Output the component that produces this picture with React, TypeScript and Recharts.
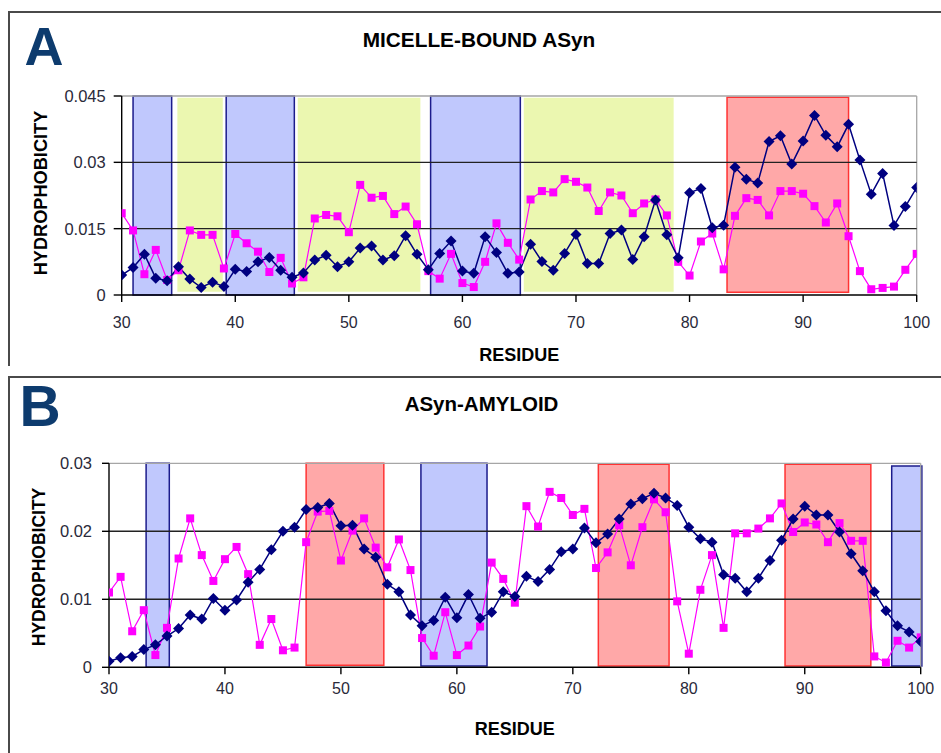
import React from 'react';
import { ComposedChart, Line, XAxis, YAxis, ReferenceArea, ReferenceLine } from 'recharts';

const residues = [30, 31, 32, 33, 34, 35, 36, 37, 38, 39, 40, 41, 42, 43, 44, 45, 46, 47, 48, 49, 50, 51, 52, 53, 54, 55, 56, 57, 58, 59, 60, 61, 62, 63, 64, 65, 66, 67, 68, 69, 70, 71, 72, 73, 74, 75, 76, 77, 78, 79, 80, 81, 82, 83, 84, 85, 86, 87, 88, 89, 90, 91, 92, 93, 94, 95, 96, 97, 98, 99, 100];

const micelleNavy = [0.0045, 0.0062, 0.0092, 0.0038, 0.0032, 0.0064, 0.0036, 0.0017, 0.0029, 0.0019, 0.0058, 0.0053, 0.0075, 0.0085, 0.0056, 0.0040, 0.0050, 0.0079, 0.0090, 0.0064, 0.0075, 0.0106, 0.0111, 0.0079, 0.0089, 0.0134, 0.0092, 0.0057, 0.0094, 0.0122, 0.0054, 0.0049, 0.0132, 0.0096, 0.0049, 0.0052, 0.0115, 0.0076, 0.0056, 0.0094, 0.0137, 0.0071, 0.0071, 0.0139, 0.0147, 0.0080, 0.0132, 0.0215, 0.0136, 0.0084, 0.0231, 0.0241, 0.0152, 0.0158, 0.0289, 0.0262, 0.0253, 0.0347, 0.0360, 0.0296, 0.0348, 0.0406, 0.0361, 0.0335, 0.0386, 0.0305, 0.0228, 0.0275, 0.0157, 0.0200, 0.0243];

const micellePink = [0.0185, 0.0146, 0.0047, 0.0102, 0.0034, 0.0056, 0.0146, 0.0136, 0.0136, 0.0060, 0.0138, 0.0117, 0.0098, 0.0052, 0.0084, 0.0026, 0.0040, 0.0173, 0.0181, 0.0178, 0.0142, 0.0249, 0.0220, 0.0224, 0.0183, 0.0200, 0.0160, 0.0054, 0.0037, 0.0093, 0.0027, 0.0018, 0.0075, 0.0162, 0.0118, 0.0080, 0.0216, 0.0235, 0.0232, 0.0262, 0.0256, 0.0243, 0.0190, 0.0232, 0.0225, 0.0185, 0.0207, 0.0216, 0.0180, 0.0075, 0.0044, 0.0121, 0.0139, 0.0058, 0.0179, 0.0219, 0.0215, 0.0180, 0.0235, 0.0235, 0.0229, 0.0201, 0.0164, 0.0207, 0.0133, 0.0054, 0.0013, 0.0016, 0.0019, 0.0057, 0.0093];

const amyloidNavy = [0.0009, 0.0014, 0.0016, 0.0026, 0.0033, 0.0046, 0.0057, 0.0077, 0.0071, 0.0101, 0.0084, 0.0099, 0.0125, 0.0144, 0.0173, 0.0200, 0.0206, 0.0232, 0.0235, 0.0241, 0.0208, 0.0209, 0.0174, 0.0162, 0.0122, 0.0111, 0.0077, 0.0061, 0.0069, 0.0103, 0.0073, 0.0107, 0.0072, 0.0081, 0.0111, 0.0104, 0.0134, 0.0126, 0.0144, 0.0170, 0.0174, 0.0205, 0.0183, 0.0196, 0.0218, 0.0240, 0.0248, 0.0256, 0.0249, 0.0238, 0.0206, 0.0189, 0.0184, 0.0136, 0.0131, 0.0111, 0.0131, 0.0157, 0.0187, 0.0218, 0.0237, 0.0224, 0.0224, 0.0199, 0.0167, 0.0142, 0.0111, 0.0083, 0.0061, 0.0052, 0.0038];

const amyloidPink = [0.0110, 0.0133, 0.0053, 0.0084, 0.0018, 0.0058, 0.0160, 0.0219, 0.0165, 0.0127, 0.0159, 0.0177, 0.0137, 0.0033, 0.0071, 0.0025, 0.0029, 0.0184, 0.0229, 0.0230, 0.0157, 0.0201, 0.0219, 0.0176, 0.0147, 0.0188, 0.0143, 0.0043, 0.0017, 0.0081, 0.0018, 0.0032, 0.0060, 0.0154, 0.0130, 0.0095, 0.0237, 0.0207, 0.0258, 0.0249, 0.0224, 0.0233, 0.0146, 0.0169, 0.0209, 0.0150, 0.0206, 0.0247, 0.0228, 0.0097, 0.0020, 0.0114, 0.0165, 0.0058, 0.0197, 0.0197, 0.0204, 0.0219, 0.0241, 0.0199, 0.0213, 0.0210, 0.0184, 0.0212, 0.0186, 0.0186, 0.0016, 0.0007, 0.0039, 0.0029, 0.0044];

const xTicks = [30, 40, 50, 60, 70, 80, 90, 100];
const yTicksA = [0, 0.015, 0.03, 0.045];
const yTicksB = [0, 0.01, 0.02, 0.03];
const gridA = [0.015, 0.03];
const gridB = [0.01, 0.02];

// highlighted residue ranges: [start, end, bottom, top, kind]
const regionsA: [number, number, number, number, string][] = [
  [31.0, 34.4, 0, 0.045, 'helix'],
  [34.9, 38.9, 0.00075, 0.0446, 'loop'],
  [39.2, 45.2, 0, 0.045, 'helix'],
  [45.5, 56.3, 0.00075, 0.0446, 'loop'],
  [57.2, 65.1, 0, 0.045, 'helix'],
  [65.4, 78.6, 0.00075, 0.0446, 'loop'],
  [83.3, 94.0, 0.0006, 0.0447, 'strand'],
];
const regionsB: [number, number, number, number, string][] = [
  [33.2, 35.2, 0, 0.03, 'helix'],
  [47.0, 53.7, 0.0003, 0.03, 'strand'],
  [56.9, 62.6, 0.0002, 0.03, 'helix'],
  [72.2, 78.3, 0.0002, 0.02985, 'strand'],
  [88.3, 95.7, 0.0002, 0.02985, 'strand'],
  [97.5, 100.1, 0.0002, 0.0296, 'helix'],
];

const kindStyle: Record<string, { fill: string; stroke: string; strokeWidth: number }> = {
  helix: { fill: '#c0c8fd', stroke: '#1c1c8c', strokeWidth: 1.5 },
  loop: { fill: '#ebf7b0', stroke: 'none', strokeWidth: 0 },
  strand: { fill: '#ffa8a8', stroke: '#ff3333', strokeWidth: 1.5 },
};

const FONT = '"Liberation Sans", Arial, sans-serif';
const NAVY = '#000080';
const PINK = '#ff00ff';

const Diamond = (props: any) => {
  const { cx, cy, index } = props;
  if (cx == null || cy == null) return <g key={`d${index}`} />;
  const s = 5.5;
  return <polygon key={`d${index}`} points={`${cx},${cy - s} ${cx + s},${cy} ${cx},${cy + s} ${cx - s},${cy}`} fill={NAVY} />;
};
const Square = (props: any) => {
  const { cx, cy, index } = props;
  if (cx == null || cy == null) return <g key={`s${index}`} />;
  const s = 4;
  return <rect key={`s${index}`} x={cx - s} y={cy - s} width={2 * s} height={2 * s} fill={PINK} />;
};

type PanelProps = {
  navy: number[];
  pink: number[];
  regions: [number, number, number, number, string][];
  yMax: number;
  yTicks: number[];
  grid: number[];
  width: number;
  height: number;
  margin: { top: number; right: number; bottom: number; left: number };
  yAxisWidth: number;
  yTickSize: number;
  yTickMargin: number;
  xAxisHeight: number;
  xTickMargin: number;
  labelOffset: number;
};

const Panel = (p: PanelProps) => {
  const data = residues.map((r, i) => ({ r, navy: p.navy[i], pink: p.pink[i] }));
  return (
    <ComposedChart width={p.width} height={p.height} data={data} margin={p.margin}>
      {p.regions.map((g, i) => {
        const st = kindStyle[g[4]];
        return (
          <ReferenceArea
            key={`reg${i}`}
            x1={g[0]}
            x2={g[1]}
            y1={g[2]}
            y2={g[3]}
            fill={st.fill}
            fillOpacity={1}
            stroke={st.stroke}
            strokeWidth={st.strokeWidth}
            ifOverflow="visible"
          />
        );
      })}
      <ReferenceLine y={p.yMax} stroke="#a6a6a6" strokeWidth={1.3} />
      <ReferenceLine x={100} stroke="#a6a6a6" strokeWidth={1.3} />
      {p.grid.map((v) => (
        <ReferenceLine key={`g${v}`} y={v} stroke="#222" strokeWidth={1.4} />
      ))}
      <XAxis
        type="number"
        dataKey="r"
        domain={[30, 100]}
        ticks={xTicks}
        allowDataOverflow
        height={p.xAxisHeight}
        tickSize={7}
        tickMargin={p.xTickMargin}
        stroke="#000"
        axisLine={{ stroke: '#000', strokeWidth: 1.4 }}
        tickLine={{ stroke: '#000', strokeWidth: 1.4 }}
        tick={{ fill: '#2a2a3a', fontSize: 16, fontFamily: FONT }}
        label={{
          value: 'RESIDUE',
          position: 'insideBottom',
          offset: p.labelOffset,
          style: { fill: '#000', fontSize: 18, fontWeight: 'bold', fontFamily: FONT },
        }}
      />
      <YAxis
        type="number"
        domain={[0, p.yMax]}
        ticks={p.yTicks}
        allowDataOverflow
        width={p.yAxisWidth}
        tickSize={p.yTickSize}
        tickMargin={p.yTickMargin}
        stroke="#000"
        axisLine={{ stroke: '#000', strokeWidth: 1.4 }}
        tickLine={{ stroke: '#000', strokeWidth: 1.4 }}
        tick={{ fill: '#2a2a3a', fontSize: 16.5, fontFamily: FONT }}
      />
      <Line
        type="linear"
        dataKey="pink"
        stroke={PINK}
        strokeWidth={1.2}
        dot={(props: any) => <Square {...props} />}
        activeDot={false}
        isAnimationActive={false}
      />
      <Line
        type="linear"
        dataKey="navy"
        stroke={NAVY}
        strokeWidth={1.5}
        dot={(props: any) => <Diamond {...props} />}
        activeDot={false}
        isAnimationActive={false}
      />
    </ComposedChart>
  );
};

const abs = (s: React.CSSProperties): React.CSSProperties => ({ position: 'absolute', ...s });

export default function App() {
  return (
    <div style={abs({ left: 0, top: 0, width: 941, height: 753, background: '#fff', fontFamily: FONT, overflow: 'hidden' })}>
      {/* frames */}
      <div style={abs({ left: 8, top: 11, width: 933, height: 2, background: '#4a4a4a' })} />
      <div style={abs({ left: 8, top: 11, width: 2, height: 355, background: '#4a4a4a' })} />
      <div style={abs({ left: 8, top: 376, width: 933, height: 2, background: '#4a4a4a' })} />
      <div style={abs({ left: 8, top: 376, width: 2, height: 377, background: '#4a4a4a' })} />

      <div style={abs({ left: 0, top: 0 })}>
        <Panel
          navy={micelleNavy}
          pink={micellePink}
          regions={regionsA}
          yMax={0.045}
          yTicks={yTicksA}
          grid={gridA}
          width={941}
          height={370}
          margin={{ top: 96, right: 24.3, bottom: 0, left: 0 }}
          yAxisWidth={121.7}
          yTickSize={8}
          yTickMargin={8}
          xAxisHeight={75}
          xTickMargin={15}
          labelOffset={9.5}
        />
      </div>
      <div style={abs({ left: 0, top: 376 })}>
        <Panel
          navy={amyloidNavy}
          pink={amyloidPink}
          regions={regionsB}
          yMax={0.03}
          yTicks={yTicksB}
          grid={gridB}
          width={941}
          height={377}
          margin={{ top: 87.3, right: 20.3, bottom: 0, left: 0 }}
          yAxisWidth={109}
          yTickSize={7}
          yTickMargin={10}
          xAxisHeight={85.7}
          xTickMargin={8}
          labelOffset={18.5}
        />
      </div>

      {/* panel letters and titles */}
      <div style={abs({ left: 44, top: 45.5, transform: 'translate(-50%,-50%)', fontSize: 54, fontWeight: 'bold', color: '#0d3b6e', lineHeight: 1 })}>A</div>
      <div style={abs({ left: 40, top: 405.5, transform: 'translate(-50%,-50%)', fontSize: 57, fontWeight: 'bold', color: '#0d3b6e', lineHeight: 1 })}>B</div>
      <div style={abs({ left: 479, top: 40, transform: 'translate(-50%,-50%)', fontSize: 20.8, fontWeight: 'bold', color: '#000', whiteSpace: 'nowrap', lineHeight: 1 })}>MICELLE-BOUND ASyn</div>
      <div style={abs({ left: 481.5, top: 403.5, transform: 'translate(-50%,-50%)', fontSize: 20.5, fontWeight: 'bold', color: '#000', whiteSpace: 'nowrap', lineHeight: 1 })}>ASyn-AMYLOID</div>
      <div style={abs({ left: 40.7, top: 193, transform: 'translate(-50%,-50%) rotate(-90deg)', fontSize: 18.2, fontWeight: 'bold', color: '#000', whiteSpace: 'nowrap', lineHeight: 1 })}>HYDROPHOBICITY</div>
      <div style={abs({ left: 40, top: 567, transform: 'translate(-50%,-50%) rotate(-90deg)', fontSize: 17.5, fontWeight: 'bold', color: '#000', whiteSpace: 'nowrap', lineHeight: 1 })}>HYDROPHOBICITY</div>
    </div>
  );
}
